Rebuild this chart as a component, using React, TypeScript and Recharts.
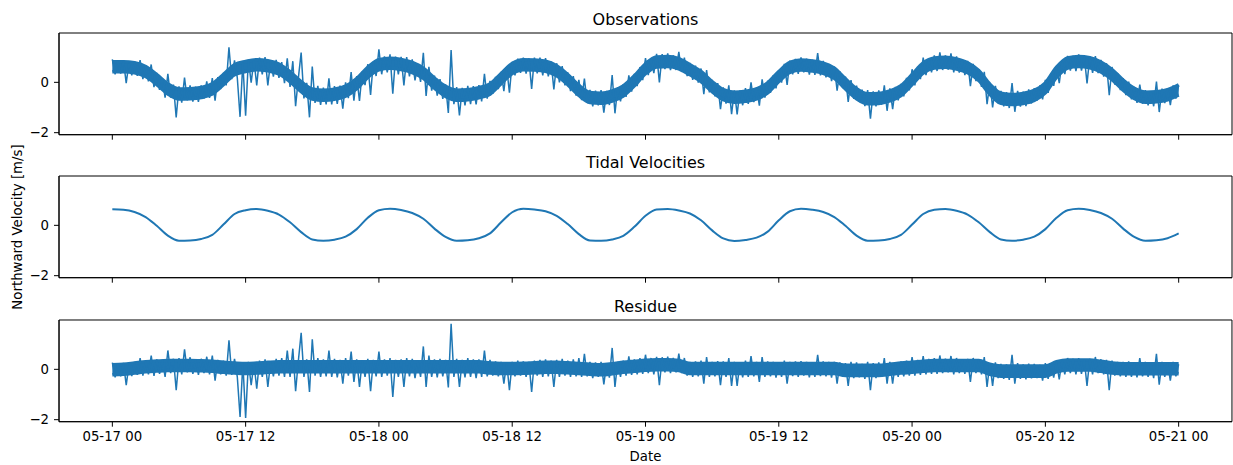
import React from 'react';
import { Line, Area, XAxis, YAxis, Label, ReferenceArea, ComposedChart } from 'recharts';

const BLUE = '#1f77b4';
const X_TICKS = [0, 12, 24, 36, 48, 60, 72, 84, 96];
const X_TICK_LABELS = ['05-17 00', '05-17 12', '05-18 00', '05-18 12', '05-19 00', '05-19 12', '05-20 00', '05-20 12', '05-21 00'];
const Y_TICKS = [-2, 0];
const X_DOMAIN = [-4.8, 100.8];
const Y_DOMAIN = [-2.08, 1.96];
const TITLES = ['Observations', 'Tidal Velocities', 'Residue'];
const Y_LABEL = 'Northward Velocity [m/s]';
const X_LABEL = 'Date';

// sampling step (hours) of the noisy series and of the hourly series
const NOISY_STEP_H = 0.25;
const HOURLY_STEP_H = 1;

// Observations, every 15 min from 05-17 00
const OBS = [
  0.91, 0.32, 0.85, 0.35, 0.88, -0.03, 0.78, 0.28, 0.83, 0.26, 0.88, 0.13, 0.68, 0.04, 0.71, -0.19,
  0.38, -0.30, 0.17, -0.61, 0.34, -0.61, -0.09, -1.39, -0.16, -0.81, 0.19, -0.72, -0.12, -0.77, -0.17, -0.78,
  -0.12, -0.65, 0.04, -0.62, 0.17, -0.73, 0.21, -0.27, 0.38, -0.12, 1.39, 0.13, 0.87, 0.19, -1.37, 0.81,
  -1.33, 0.91, -0.01, 0.89, -0.12, 0.98, 0.32, 1.0, -0.12, 0.84, 0.23, 0.89, 0.18, 0.8, -0.03, 0.95,
  -0.18, 0.84, -0.95, 0.18, 1.18, -0.64, -0.02, -1.39, 0.63, -0.82, -0.14, -0.9, -0.21, -0.88, 0.16, -0.88,
  -0.15, -0.86, -0.13, -1.05, 0.0, -0.63, 0.41, -0.73, 0.25, -0.74, 0.43, -0.11, 0.72, -0.5, 0.83, 0.25,
  1.31, 0.32, 1.03, 0.4, 1.11, -0.45, 1.02, 0.32, 1.01, -0.12, 1.0, 0.24, 0.91, 0.08, 0.73, 0.02,
  1.17, -0.54, 0.62, -0.33, 0.27, -0.53, 0.13, -0.66, -0.08, -1.22, 1.28, -0.87, -0.19, -1.31, -0.22, -0.92,
  -0.14, -0.87, -0.15, -0.88, -0.11, -0.76, 0.34, -0.65, 0.06, -0.46, 0.22, -0.27, 0.42, -0.35, 0.6, -0.41,
  0.82, 0.28, 0.94, 0.38, 0.98, 0.35, 0.95, -0.26, 0.98, 0.36, 0.98, 0.28, 0.96, 0.24, 0.82, -0.28,
  0.76, 0.0, 0.64, -0.12, 0.4, -0.35, 0.25, -0.53, 0.1, -0.71, 0.15, -0.82, -0.3, -0.95, -0.33, -0.91,
  -0.31, -1.2, -0.34, -0.9, 0.29, -1.23, -0.19, -0.76, -0.07, -0.58, 0.28, -0.37, 0.34, -0.15, 0.61, 0.09,
  0.96, 0.29, 0.96, 0.37, 1.13, 0.0, 1.12, 0.53, 1.15, 0.49, 1.07, 0.49, 1.21, 0.41, 0.98, 0.25,
  0.77, 0.1, 0.66, -0.01, 0.55, -0.47, 0.49, -0.4, 0.1, -0.56, -0.03, -1.07, -0.2, -0.85, -0.12, -1.26,
  -0.32, -1.27, -0.32, -0.91, -0.23, -0.86, 0.0, -0.79, -0.19, -0.93, 0.12, -0.61, 0.07, -0.42, 0.28, -0.24,
  0.48, -0.01, 0.73, -0.1, 0.86, 0.32, 0.93, 0.34, 0.99, 0.4, 0.94, 0.31, 0.9, 0.3, 1.16, 0.28,
  0.85, 0.2, 0.73, 0.05, 0.63, -0.33, 0.44, -0.23, 0.23, -0.78, 0.09, -0.66, -0.13, -0.78, -0.29, -0.94,
  -0.31, -1.44, -0.36, -0.95, -0.32, -0.89, -0.12, -1.13, -0.24, -1.07, -0.18, -0.72, -0.06, -0.56, 0.18, -0.32,
  0.52, -0.12, 0.62, 0.13, 0.98, 0.29, 0.96, 0.4, 1.07, 0.45, 1.19, 0.49, 1.07, 0.51, 1.15, 0.4,
  1.03, 0.39, 0.91, 0.29, 0.85, -0.15, 0.73, 0.05, 0.52, -0.18, 0.42, -0.87, -0.02, -1.0, -0.14, -0.84,
  -0.34, -0.95, -0.39, -1.02, -0.03, -1.17, -0.34, -0.96, -0.37, -0.94, -0.28, -0.84, -0.23, -0.73, -0.12, -0.68,
  0.1, -0.42, 0.3, -0.14, 0.6, -0.03, 0.83, 0.33, 1.05, 0.47, 1.05, 0.45, 1.11, 0.47, 1.04, -0.04,
  1.03, 0.38, 1.04, 0.37, 0.89, 0.23, 0.76, -0.51, 0.61, -0.09, 0.37, -0.31, 0.17, -0.51, 0.03, -0.68,
  -0.18, -0.82, -0.09, -0.85, -0.31, -0.91, -0.35, -0.95, 0.03, -1.18, -0.25, -0.83, -0.23, -0.91, -0.12, -0.65,
  -0.12,
];

// Observations: dense core of the noise band, hourly (low / high edge)
const OBS_CORE_LO = [
  0.42, 0.42, 0.38, 0.23, -0.09, -0.46, -0.66, -0.65, -0.60, -0.46, -0.09, 0.30, 0.43,
  0.50, 0.46, 0.33, 0.02, -0.37, -0.66, -0.71, -0.67, -0.55, -0.25, 0.20, 0.50,
  0.56, 0.51, 0.39, 0.16, -0.23, -0.56, -0.71, -0.69, -0.61, -0.47, -0.05, 0.35,
  0.50, 0.49, 0.44, 0.26, -0.09, -0.52, -0.80, -0.83, -0.74, -0.54, -0.14, 0.34,
  0.61, 0.63, 0.54, 0.30, 0.03, -0.37, -0.69, -0.79, -0.75, -0.66, -0.42, 0.03,
  0.39, 0.49, 0.45, 0.36, 0.16, -0.26, -0.65, -0.85, -0.84, -0.74, -0.53, -0.09,
  0.37, 0.57, 0.60, 0.53, 0.38, 0.07, -0.47, -0.83, -0.88, -0.84, -0.72, -0.42,
  0.20, 0.57, 0.63, 0.58, 0.41, 0.11, -0.31, -0.64, -0.79, -0.77, -0.69, -0.50,
];
const OBS_CORE_HI = [
  0.82, 0.82, 0.78, 0.63, 0.31, -0.06, -0.26, -0.25, -0.20, -0.06, 0.31, 0.70, 0.83,
  0.90, 0.86, 0.73, 0.42, 0.03, -0.26, -0.31, -0.27, -0.15, 0.15, 0.60, 0.90,
  0.96, 0.91, 0.79, 0.56, 0.17, -0.16, -0.31, -0.29, -0.21, -0.07, 0.35, 0.75,
  0.90, 0.89, 0.84, 0.66, 0.31, -0.12, -0.40, -0.43, -0.34, -0.14, 0.26, 0.74,
  1.01, 1.03, 0.94, 0.70, 0.43, 0.03, -0.29, -0.39, -0.35, -0.26, -0.02, 0.43,
  0.79, 0.89, 0.85, 0.76, 0.56, 0.14, -0.25, -0.45, -0.44, -0.34, -0.13, 0.31,
  0.77, 0.97, 1.00, 0.93, 0.78, 0.47, -0.07, -0.43, -0.48, -0.44, -0.32, -0.02,
  0.60, 0.97, 1.03, 0.98, 0.81, 0.51, 0.09, -0.24, -0.39, -0.37, -0.29, -0.10,
];

// Tidal velocities, hourly from 05-17 00
const TIDAL = [
  0.64, 0.62, 0.53, 0.33, -0.02, -0.41, -0.61, -0.60, -0.54, -0.38, 0.03, 0.45, 0.60,
  0.65, 0.58, 0.43, 0.12, -0.27, -0.56, -0.61, -0.57, -0.45, -0.15, 0.30, 0.60,
  0.66, 0.61, 0.49, 0.26, -0.13, -0.46, -0.61, -0.59, -0.51, -0.32, 0.12, 0.52,
  0.66, 0.63, 0.56, 0.38, 0.05, -0.35, -0.60, -0.61, -0.56, -0.42, -0.06, 0.38,
  0.63, 0.65, 0.59, 0.47, 0.20, -0.20, -0.52, -0.62, -0.58, -0.49, -0.25, 0.20,
  0.56, 0.66, 0.62, 0.53, 0.33, -0.02, -0.41, -0.61, -0.60, -0.54, -0.38, 0.03,
  0.45, 0.62, 0.65, 0.58, 0.43, 0.12, -0.27, -0.56, -0.61, -0.57, -0.45, -0.15,
  0.30, 0.60, 0.66, 0.61, 0.49, 0.26, -0.13, -0.46, -0.61, -0.59, -0.51, -0.32,
];

// Residue, every 15 min from 05-17 00
const RES = [
  0.27, -0.32, 0.22, -0.28, 0.26, -0.63, 0.2, -0.27, 0.3, -0.22, 0.45, -0.25, 0.35, -0.2, 0.55, -0.26,
  0.4, -0.18, 0.38, -0.3, 0.75, -0.15, 0.42, -0.83, 0.45, -0.2, 0.79, -0.12, 0.48, -0.18, 0.4, -0.22,
  0.42, -0.15, 0.5, -0.2, 0.55, -0.45, 0.38, -0.2, 0.35, -0.25, 1.15, -0.22, 0.42, -0.3, -1.89, 0.25,
  -1.93, 0.3, -0.63, 0.25, -0.77, 0.35, -0.3, 0.4, -0.7, 0.3, -0.28, 0.42, -0.25, 0.45, -0.3, 0.75,
  -0.3, 0.82, -0.87, 0.35, 1.45, -0.3, 0.4, -0.9, 1.19, -0.25, 0.45, -0.3, 0.4, -0.28, 0.75, -0.3,
  0.42, -0.32, 0.38, -0.57, 0.45, -0.25, 0.71, -0.5, 0.4, -0.7, 0.35, -0.3, 0.42, -0.87, 0.38, -0.28,
  0.71, -0.3, 0.4, -0.25, 0.45, -1.1, 0.38, -0.3, 0.4, -0.7, 0.45, -0.28, 0.42, -0.35, 0.35, -0.3,
  0.91, -0.7, 0.55, -0.3, 0.4, -0.32, 0.42, -0.28, 0.38, -0.72, 1.81, -0.3, 0.42, -0.7, 0.38, -0.32,
  0.45, -0.3, 0.4, -0.35, 0.4, -0.3, 0.75, -0.28, 0.38, -0.25, 0.32, -0.28, 0.3, -0.57, 0.28, -0.83,
  0.3, -0.28, 0.35, -0.25, 0.32, -0.3, 0.3, -0.9, 0.35, -0.25, 0.38, -0.3, 0.4, -0.28, 0.35, -0.7,
  0.38, -0.3, 0.42, -0.25, 0.35, -0.3, 0.4, -0.28, 0.45, -0.3, 0.62, -0.28, 0.3, -0.35, 0.28, -0.3,
  0.3, -0.6, 0.25, -0.33, 0.85, -0.7, 0.3, -0.3, 0.35, -0.25, 0.52, -0.22, 0.4, -0.2, 0.45, -0.18,
  0.58, -0.15, 0.45, -0.2, 0.5, -0.63, 0.48, -0.12, 0.5, -0.15, 0.45, -0.12, 0.62, -0.15, 0.45, -0.25,
  0.3, -0.3, 0.32, -0.28, 0.35, -0.57, 0.49, -0.3, 0.3, -0.28, 0.33, -0.63, 0.32, -0.3, 0.45, -0.66,
  0.3, -0.66, 0.28, -0.32, 0.35, -0.3, 0.53, -0.28, 0.3, -0.5, 0.49, -0.3, 0.32, -0.28, 0.3, -0.33,
  0.28, -0.3, 0.35, -0.57, 0.3, -0.27, 0.32, -0.3, 0.33, -0.25, 0.3, -0.32, 0.28, -0.3, 0.58, -0.27,
  0.32, -0.28, 0.3, -0.33, 0.3, -0.57, 0.28, -0.3, 0.25, -0.66, 0.3, -0.35, 0.28, -0.32, 0.22, -0.38,
  0.3, -0.83, 0.25, -0.35, 0.28, -0.3, 0.45, -0.57, 0.3, -0.57, 0.28, -0.3, 0.32, -0.28, 0.35, -0.25,
  0.49, -0.25, 0.38, -0.22, 0.53, -0.2, 0.42, -0.18, 0.45, -0.18, 0.55, -0.15, 0.42, -0.12, 0.53, -0.2,
  0.45, -0.15, 0.4, -0.18, 0.42, -0.5, 0.45, -0.15, 0.4, -0.2, 0.49, -0.7, 0.25, -0.66, 0.28, -0.35,
  0.22, -0.38, 0.2, -0.42, 0.58, -0.57, 0.25, -0.38, 0.2, -0.4, 0.23, -0.36, 0.22, -0.35, 0.18, -0.45,
  0.25, -0.38, 0.22, -0.33, 0.3, -0.4, 0.38, -0.2, 0.45, -0.15, 0.42, -0.2, 0.45, -0.18, 0.4, -0.66,
  0.42, -0.2, 0.49, -0.15, 0.4, -0.2, 0.38, -0.83, 0.35, -0.25, 0.3, -0.28, 0.3, -0.3, 0.32, -0.3,
  0.28, -0.32, 0.45, -0.28, 0.3, -0.3, 0.25, -0.35, 0.62, -0.61, 0.3, -0.3, 0.28, -0.45, 0.3, -0.28,
  0.2,
];

// Residue: dense core of the noise band, hourly (low / high edge)
const RES_CORE_LO = [
  -0.22, -0.20, -0.15, -0.10, -0.07, -0.05, -0.05, -0.05, -0.06, -0.08, -0.12, -0.15, -0.17,
  -0.15, -0.12, -0.10, -0.10, -0.10, -0.10, -0.10, -0.10, -0.10, -0.10, -0.10, -0.10,
  -0.10, -0.10, -0.10, -0.10, -0.10, -0.10, -0.10, -0.10, -0.10, -0.15, -0.17, -0.17,
  -0.16, -0.14, -0.12, -0.12, -0.14, -0.17, -0.20, -0.22, -0.18, -0.12, -0.08, -0.04,
  -0.02, -0.02, -0.05, -0.17, -0.17, -0.17, -0.17, -0.17, -0.17, -0.17, -0.17, -0.17,
  -0.17, -0.17, -0.17, -0.17, -0.17, -0.24, -0.24, -0.24, -0.24, -0.20, -0.15, -0.12,
  -0.08, -0.05, -0.05, -0.05, -0.05, -0.05, -0.20, -0.27, -0.27, -0.27, -0.27, -0.27,
  -0.10, -0.03, -0.03, -0.03, -0.08, -0.15, -0.18, -0.18, -0.18, -0.18, -0.18, -0.18,
];
const RES_CORE_HI = [
  0.18, 0.20, 0.25, 0.30, 0.33, 0.35, 0.35, 0.35, 0.34, 0.32, 0.28, 0.25, 0.23,
  0.25, 0.28, 0.30, 0.30, 0.30, 0.30, 0.30, 0.30, 0.30, 0.30, 0.30, 0.30,
  0.30, 0.30, 0.30, 0.30, 0.30, 0.30, 0.30, 0.30, 0.30, 0.25, 0.23, 0.23,
  0.24, 0.26, 0.28, 0.28, 0.26, 0.23, 0.20, 0.18, 0.22, 0.28, 0.32, 0.36,
  0.38, 0.38, 0.35, 0.23, 0.23, 0.23, 0.23, 0.23, 0.23, 0.23, 0.23, 0.23,
  0.23, 0.23, 0.23, 0.23, 0.23, 0.16, 0.16, 0.16, 0.16, 0.20, 0.25, 0.28,
  0.32, 0.35, 0.35, 0.35, 0.35, 0.35, 0.20, 0.13, 0.13, 0.13, 0.13, 0.13,
  0.30, 0.37, 0.37, 0.37, 0.32, 0.25, 0.22, 0.22, 0.22, 0.22, 0.22, 0.22,
];

type Pt = { t: number; v: number };
type BandPt = { t: number; lo: number; hi: number };

const obsData: Pt[] = OBS.map((v, i) => ({ t: i * NOISY_STEP_H, v }));
const obsBand: BandPt[] = OBS_CORE_LO.map((lo, i) => ({ t: i * HOURLY_STEP_H, lo, hi: OBS_CORE_HI[i] }));
const tidalData: Pt[] = TIDAL.map((v, i) => ({ t: i * HOURLY_STEP_H, v }));
const resData: Pt[] = RES.map((v, i) => ({ t: i * NOISY_STEP_H, v }));
const resBand: BandPt[] = RES_CORE_LO.map((lo, i) => ({ t: i * HOURLY_STEP_H, lo, hi: RES_CORE_HI[i] }));

const FONT = '"DejaVu Sans", "Liberation Sans", sans-serif';
const TICK_FS = 13.3;
const TITLE_FS = 16;
const PLOT_H = 101.7;
const PANEL_GAP = 143.3;

const fmtY = (v: number) => (v < 0 ? '\u2212' + Math.abs(v) : String(v));
const fmtX = (v: number) => {
  const i = X_TICKS.indexOf(v);
  return i >= 0 ? X_TICK_LABELS[i] : '';
};
const bandKey = (d: BandPt) => [d.lo, d.hi];

type PanelProps = {
  data: Pt[];
  band?: BandPt[];
  title: string;
  top: number;
  height: number;
  xAxisHeight: number;
  showXLabels: boolean;
  smooth: boolean;
  strokeWidth: number;
};

function Panel({ data, band, title, top, height, xAxisHeight, showXLabels, smooth, strokeWidth }: PanelProps) {
  return (
    <div style={{ position: 'absolute', left: 0, top, width: 1233, height }}>
      <ComposedChart width={1233} height={height} margin={{ top: 33, right: 1, left: 0, bottom: 0 }}>
        <XAxis
          dataKey="t"
          type="number"
          domain={X_DOMAIN}
          ticks={X_TICKS}
          allowDataOverflow
          height={xAxisHeight}
          tickSize={5}
          tickMargin={5}
          tickFormatter={showXLabels ? fmtX : () => ''}
          tick={{ fill: '#000', fontSize: TICK_FS, fontFamily: FONT }}
          tickLine={{ stroke: '#000' }}
          axisLine={{ stroke: '#000' }}
          interval={0}
        >
          {showXLabels ? (
            <Label value={X_LABEL} position="insideBottom" offset={4} fill="#000" fontSize={TICK_FS} fontFamily={FONT} />
          ) : null}
        </XAxis>
        <YAxis
          type="number"
          domain={Y_DOMAIN}
          ticks={Y_TICKS}
          allowDataOverflow
          width={59}
          tickSize={5}
          tickMargin={5}
          tickFormatter={fmtY}
          tick={{ fill: '#000', fontSize: TICK_FS, fontFamily: FONT }}
          tickLine={{ stroke: '#000' }}
          axisLine={{ stroke: '#000' }}
        />
        {band ? (
          <Area
            data={band}
            dataKey={bandKey as any}
            type="monotone"
            stroke={BLUE}
            strokeWidth={3.5}
            fill={BLUE}
            fillOpacity={1}
            dot={false}
            activeDot={false}
            isAnimationActive={false}
          />
        ) : null}
        <Line
          data={data}
          dataKey="v"
          type={smooth ? 'monotone' : 'linear'}
          stroke={BLUE}
          strokeWidth={strokeWidth}
          dot={false}
          activeDot={false}
          isAnimationActive={false}
        />
        <ReferenceArea
          x1={X_DOMAIN[0]}
          x2={X_DOMAIN[1]}
          y1={Y_DOMAIN[0]}
          y2={Y_DOMAIN[1]}
          ifOverflow="visible"
          fill="none"
          fillOpacity={0}
          stroke="#000"
          strokeWidth={1}
          label={{ value: title, position: 'top', offset: 8, fill: '#000', fontSize: TITLE_FS, fontFamily: FONT }}
        />
      </ComposedChart>
    </div>
  );
}

export default function App() {
  return (
    <div
      style={{
        position: 'absolute',
        left: 0,
        top: 0,
        width: 1233,
        height: 465,
        background: '#fff',
        fontFamily: FONT,
        overflow: 'hidden',
      }}
    >
      <Panel data={obsData} band={obsBand} title={TITLES[0]} top={0} height={150} xAxisHeight={150 - 33 - PLOT_H}
        showXLabels={false} smooth={false} strokeWidth={1.5} />
      <Panel data={tidalData} title={TITLES[1]} top={PANEL_GAP} height={150} xAxisHeight={150 - 33 - PLOT_H}
        showXLabels={false} smooth={true} strokeWidth={2} />
      <Panel data={resData} band={resBand} title={TITLES[2]} top={PANEL_GAP * 2} height={465 - PANEL_GAP * 2}
        xAxisHeight={465 - PANEL_GAP * 2 - 33 - PLOT_H}
        showXLabels={true} smooth={false} strokeWidth={1.5} />
      <svg width={40} height={465} style={{ position: 'absolute', left: 0, top: 0 }}>
        <text
          x={22}
          y={227}
          transform="rotate(-90 22 227)"
          textAnchor="middle"
          fontSize={TICK_FS}
          fill="#000"
          fontFamily={FONT}
        >
          {Y_LABEL}
        </text>
      </svg>
    </div>
  );
}
